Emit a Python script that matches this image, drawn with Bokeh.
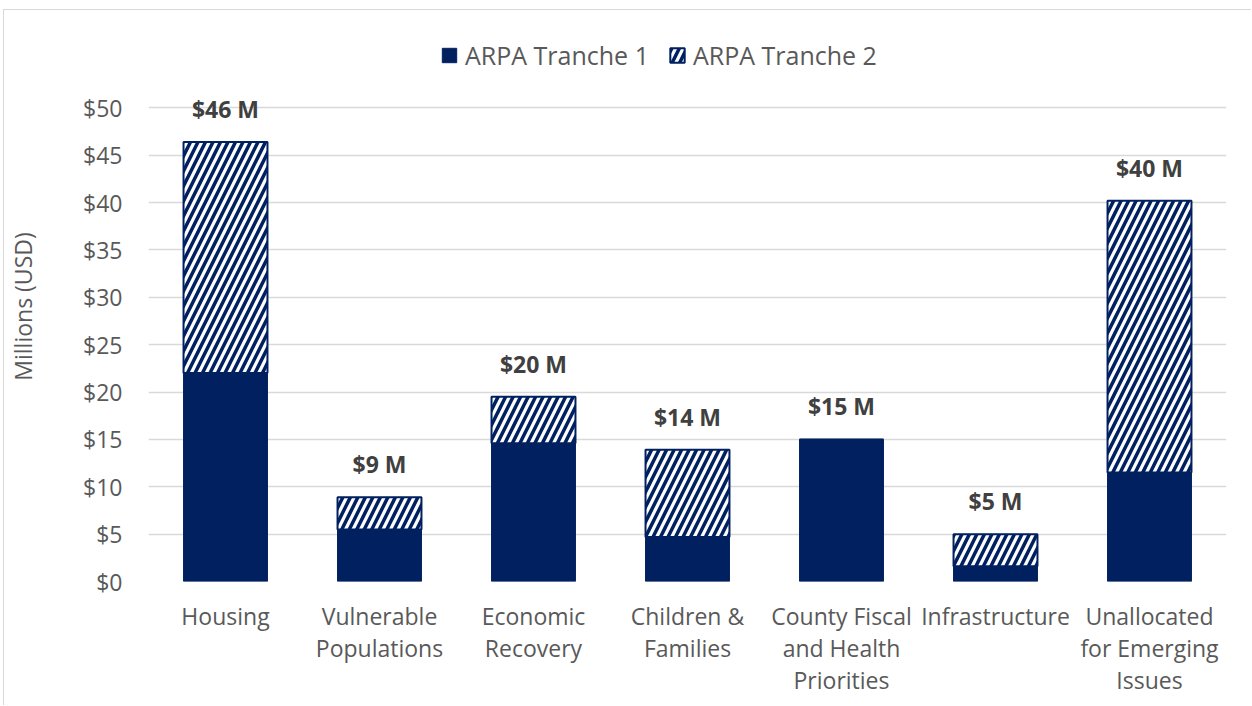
from bokeh.plotting import figure
from bokeh.models import ColumnDataSource, FixedTicker, Legend, LegendItem, LabelSet, Range1d
from bokeh.core.properties import value
from bokeh.embed import file_html
from bokeh.resources import INLINE

categories = ["Housing", "Vulnerable\nPopulations", "Economic\nRecovery", "Children &\nFamilies",
              "County Fiscal\nand Health\nPriorities", "Infrastructure", "Unallocated\nfor Emerging\nIssues"]
tranche1 = [22.0, 5.5, 14.6, 4.7, 15.0, 1.6, 11.5]
tranche2 = [24.4, 3.4, 4.9, 9.2, 0.0, 3.4, 28.7]
total_labels = ["$46 M", "$9 M", "$20 M", "$14 M", "$15 M", "$5 M", "$40 M"]
y_ticks = [0, 5, 10, 15, 20, 25, 30, 35, 40, 45, 50]

NAVY = "#002060"
GRAY_TXT = "#595959"
FONT = "Open Sans"

totals = [a + b for a, b in zip(tranche1, tranche2)]
src = ColumnDataSource(dict(cat=categories, t1=tranche1, t2=tranche2, total=totals,
                            zero=[0] * len(categories), lab=total_labels))

p = figure(x_range=categories, y_range=Range1d(0, 58.06), width=1248, height=696,
           output_backend="svg", toolbar_location=None,
           min_border_left=144, min_border_right=26, min_border_top=21, min_border_bottom=125,
           styles={"margin-left": "3px", "margin-top": "9px",
                   "border-top": "1px solid #d9d9d9", "border-left": "1px solid #d9d9d9"})
p.outline_line_color = None

r1 = p.vbar(x="cat", bottom="zero", top="t1", width=0.545, source=src,
            fill_color=NAVY, line_color=NAVY, line_width=1)
r2 = p.vbar(x="cat", bottom="t1", top="total", width=0.545, source=src,
            fill_color="white", line_color=NAVY, line_width=2,
            hatch_pattern="/", hatch_color=NAVY, hatch_scale=15, hatch_weight=3.5)

labels = LabelSet(x="cat", y="total", text="lab", source=src, y_offset=33,
                  text_align="center", text_baseline="middle",
                  text_font=value(FONT), text_font_size=value("23px"),
                  text_font_style=value("bold"), text_color=value("#404040"))
p.add_layout(labels)

p.yaxis.ticker = FixedTicker(ticks=y_ticks)
p.yaxis.major_label_overrides = {t: f"${t}" for t in y_ticks}
p.yaxis.axis_label = "Millions (USD)"
p.yaxis.axis_label_text_font = FONT
p.yaxis.axis_label_text_font_size = "23px"
p.yaxis.axis_label_text_font_style = "normal"
p.yaxis.axis_label_text_color = GRAY_TXT
p.yaxis.axis_label_standoff = 41

for ax in (p.xaxis, p.yaxis):
    ax.axis_line_color = None
    ax.major_tick_line_color = None
    ax.minor_tick_line_color = None
    ax.major_label_text_font = FONT
    ax.major_label_text_font_size = "23px"
    ax.major_label_text_color = GRAY_TXT

p.yaxis.major_label_standoff = 20
p.xaxis.major_label_standoff = 12
p.xaxis.axis_label_standoff = 0
p.xaxis.major_label_text_line_height = 1.0

p.xgrid.grid_line_color = None
p.ygrid.grid_line_color = "#d9d9d9"
p.ygrid.grid_line_width = 1.5
p.x_range.range_padding = 0

legend = Legend(items=[LegendItem(label="ARPA Tranche 1", renderers=[r1]),
                       LegendItem(label="ARPA Tranche 2", renderers=[r2])],
                location=(292, 509), orientation="horizontal",
                label_text_font=FONT, label_text_font_size="25px", label_text_color=GRAY_TXT,
                glyph_width=18, glyph_height=18, label_standoff=7, spacing=19,
                padding=0, margin=0, border_line_color=None, background_fill_alpha=0)
p.add_layout(legend)

open("out.html", "w").write(file_html(p, INLINE))
